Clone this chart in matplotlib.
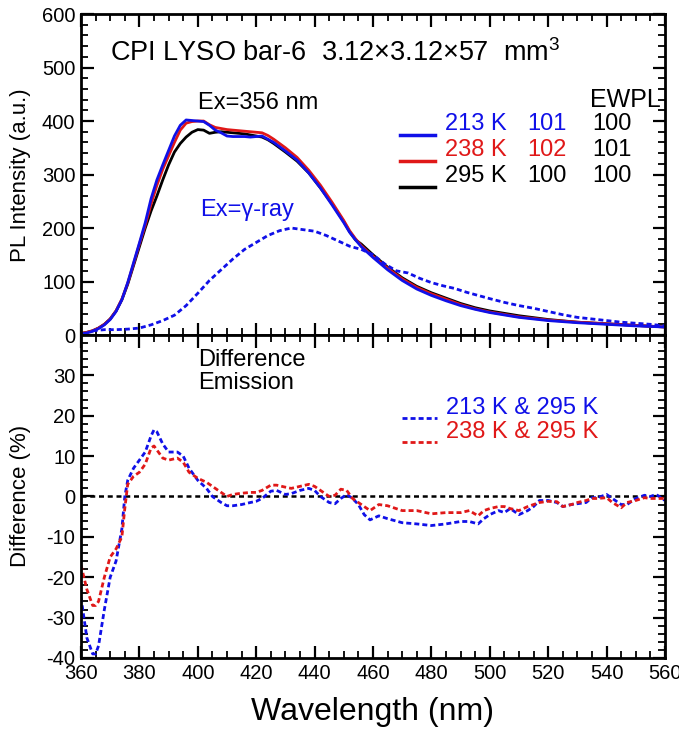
import matplotlib
matplotlib.use("Agg")
import matplotlib.pyplot as plt
from matplotlib.ticker import MultipleLocator
from matplotlib.lines import Line2D

plt.rcParams['font.family'] = ['Liberation Sans', 'DejaVu Sans']
plt.rcParams['mathtext.fontset'] = 'custom'
plt.rcParams['mathtext.rm'] = 'Liberation Sans'
plt.rcParams['mathtext.default'] = 'regular'
plt.rcParams['axes.unicode_minus'] = False

# ---------------- data: top panel (PL intensity) ----------------
wl = [360, 362, 364, 366, 368, 370, 372, 374, 376, 378, 380, 382, 384, 386, 388,
      390, 392, 394, 396, 398, 400, 402, 404, 406, 408, 410, 412, 414, 416, 418,
      420, 422, 424, 426, 428, 430, 434, 438, 442, 446, 450, 452, 454, 456, 458,
      460, 465, 470, 475, 480, 485, 490, 495, 500, 510, 520, 530, 540, 550, 560]

pl_213K = [2, 4, 7, 12, 19, 29, 44, 66, 98, 135, 172, 210, 255, 290, 318,
           345, 372, 392, 402, 401, 400, 399, 392, 383, 378, 372, 371, 371, 371, 370,
           371, 372, 366, 360, 352, 344, 327, 303, 275, 243, 210, 192, 178, 165, 155,
           145, 122, 102, 86, 74, 64, 55, 48, 42, 33, 27, 23, 20, 17, 15]

pl_238K = [3, 5, 8, 13, 20, 30, 45, 67, 97, 133, 170, 205, 245, 280, 310,
           335, 360, 383, 396, 399, 400, 400, 393, 388, 386, 384, 383, 382, 381, 380,
           379, 378, 373, 366, 358, 350, 332, 308, 280, 248, 214, 195, 180, 167, 157,
           147, 125, 105, 89, 77, 67, 57, 49, 43, 34, 28, 24, 21, 18, 15]

pl_295K = [3, 5, 8, 13, 20, 30, 45, 66, 95, 130, 165, 200, 232, 260, 290,
           318, 342, 358, 370, 379, 384, 383, 377, 379, 380, 379, 378, 377, 376, 374,
           372, 370, 365, 358, 350, 342, 325, 303, 275, 245, 212, 193, 178, 170, 160,
           150, 127, 107, 91, 79, 69, 59, 51, 45, 36, 29, 24, 21, 18, 15]

wl_gamma = [364, 368, 372, 376, 380, 384, 388, 392, 396, 400, 404, 408, 412, 416,
            420, 424, 428, 432, 436, 440, 444, 448, 452, 456, 460, 464, 468, 472,
            476, 480, 484, 488, 492, 496, 500, 505, 510, 515, 520, 525, 530, 535,
            540, 545, 550, 555, 560]
pl_gamma = [8, 10, 10, 11, 13, 19, 27, 37, 55, 78, 102, 122, 142, 160,
            173, 186, 195, 200, 197, 194, 186, 176, 166, 160, 150, 133, 120, 116,
            106, 98, 92, 87, 80, 74, 68, 61, 55, 50, 44, 38, 33, 30,
            27, 24, 22, 20, 17]

# ---------------- data: bottom panel (difference %) ----------------
wl_diff = [360, 362, 364, 365, 366, 368, 370, 372, 374, 375, 376, 378, 380, 382, 384,
           385, 386, 388, 390, 393, 395, 397, 400, 403, 405, 408, 410, 412, 415, 418,
           420, 422, 425, 427, 430, 432, 435, 438, 440, 442, 445, 447, 449, 451, 453,
           455, 457, 459, 462, 465, 470, 475, 480, 485, 490, 493, 496, 498, 500, 503,
           505, 507, 510, 513, 515, 517, 520, 523, 525, 528, 530, 533, 535, 537, 540,
           542, 545, 547, 550, 553, 555, 557, 560]
diff_213 = [-25, -35, -39, -39, -37, -28, -20, -16, -8, 0, 4, 7, 9, 11, 15,
            16.5, 16, 13, 11, 11, 10, 7, 4, 2, 0, -1.5, -2.3, -2.3, -2, -1.5,
            -1.2, -0.5, 1.3, 1.5, 0.5, 0.7, 1.5, 2, 1.5, 0, -1.5, -1.8, -0.5, 0.5, -0.5,
            -2, -4.5, -5.8, -4.8, -5.5, -6.5, -6.8, -7.2, -6.8, -6.2, -6.2, -6.8, -5.5, -4.5, -3.5,
            -4, -3, -4.5, -3.5, -2.5, -1, -1, -1.5, -2.5, -2, -1.8, -1.5, -0.3, -0.3, 0.5,
            -0.5, -2, -2, -0.5, 0.3, 0, 0.5, -1]
diff_238 = [-17, -23, -27, -27, -26, -20, -15, -13, -10, -3, 3, 5, 6, 8, 12,
            12.5, 11.5, 9.5, 9, 9.5, 8.5, 6, 4.5, 3.5, 2.5, 1, 0, 0.5, 0.8, 1,
            1, 1.5, 2.8, 2.8, 2.3, 2, 2.5, 3, 2.5, 1.5, 0, 0.3, 1.8, 1.5, -0.5,
            -1.5, -2.5, -3.5, -2, -2.3, -3.5, -3.5, -4.3, -4, -4, -3.5, -4.8, -3.5, -3, -2.5,
            -2.5, -3, -3.5, -2.5, -2, -1.5, -1.2, -1.3, -2.5, -2, -1.5, -1, -0.5, -0.5, -0.3,
            -1.5, -2.8, -1.5, -1, -0.3, -0.5, -0.5, -0.5]

BLUE = '#1010e8'
RED = '#e01818'
BLACK = '#000000'
DASH = (0, (1.8, 1.1))

fig = plt.figure(figsize=(6.79, 7.31), dpi=100)
ax1 = fig.add_axes([0.1193, 0.5417, 0.8600, 0.4391])
ax2 = fig.add_axes([0.1193, 0.0999, 0.8600, 0.4419])

# top panel
ax1.plot(wl, pl_295K, color=BLACK, lw=2)
ax1.plot(wl, pl_238K, color=RED, lw=2)
ax1.plot(wl, pl_213K, color=BLUE, lw=2)
ax1.plot(wl_gamma, pl_gamma, color=BLUE, lw=2, linestyle=DASH)
ax1.set_xlim(360, 560)
ax1.set_ylim(0, 600)
ax1.xaxis.set_major_locator(MultipleLocator(20))
ax1.xaxis.set_minor_locator(MultipleLocator(5))
ax1.yaxis.set_major_locator(MultipleLocator(100))
ax1.yaxis.set_minor_locator(MultipleLocator(20))
ax1.tick_params(labelbottom=False)

# bottom panel
ax2.axhline(0, color=BLACK, lw=1.8, linestyle=(0, (2, 1.5)))
ax2.plot(wl_diff, diff_213, color=BLUE, lw=2, linestyle=DASH)
ax2.plot(wl_diff, diff_238, color=RED, lw=2, linestyle=DASH)
ax2.set_xlim(360, 560)
ax2.set_ylim(-40, 40)
ax2.xaxis.set_major_locator(MultipleLocator(20))
ax2.xaxis.set_minor_locator(MultipleLocator(5))
ax2.set_yticks(list(range(-40, 40, 10)))
ax2.yaxis.set_minor_locator(MultipleLocator(2))

for ax in (ax1, ax2):
    for s in ax.spines.values():
        s.set_linewidth(2)
    ax.tick_params(which='both', direction='in', top=True, right=True,
                   labelsize=14.5, pad=4)
    ax.tick_params(which='major', length=9, width=1.6)
    ax.tick_params(which='minor', length=5, width=1.3)

# axis labels
fig.text(0.0295, 0.761, 'PL Intensity (a.u.)', rotation=90, ha='center',
         va='center', fontsize=16)
fig.text(0.0295, 0.321, 'Difference (%)', rotation=90, ha='center',
         va='center', fontsize=16)
fig.text(0.549, 0.026, 'Wavelength (nm)', ha='center', va='center', fontsize=23)

# annotations top
t = ax1.transAxes
ax1.text(0.05, 0.878, 'CPI LYSO bar-6  3.12×3.12×57  mm$^3$', transform=t,
         fontsize=19.5, va='center', ha='left')
ax1.text(0.20, 0.723, 'Ex=356 nm', transform=t, fontsize=17, va='center')
ax1.text(0.204, 0.389, 'Ex=γ-ray', transform=t, fontsize=17, va='center', color=BLUE)
ax1.text(0.872, 0.732, 'EWPL', transform=t, fontsize=18, va='center')

leg_rows = [('213 K', '101', '100', BLUE, 0.657),
            ('238 K', '102', '101', RED, 0.576),
            ('295 K', '100', '100', BLACK, 0.495)]
for lab, v1, v2, c, y in leg_rows:
    ax1.add_line(Line2D([0.546, 0.606], [y - 0.035, y - 0.035], transform=t,
                        color=c, lw=2.5))
    ax1.text(0.623, y, lab, transform=t, fontsize=17, va='center', color=c)
    ax1.text(0.764, y, v1, transform=t, fontsize=17, va='center', color=c)
    ax1.text(0.875, y, v2, transform=t, fontsize=17, va='center', color=BLACK)

# annotations bottom
t2 = ax2.transAxes
ax2.text(0.20, 0.923, 'Difference', transform=t2, fontsize=17, va='center')
ax2.text(0.20, 0.851, 'Emission', transform=t2, fontsize=17, va='center')
for lab, c, y in [('213 K & 295 K', BLUE, 0.774), ('238 K & 295 K', RED, 0.700)]:
    ax2.add_line(Line2D([0.55, 0.61], [y - 0.03, y - 0.03], transform=t2,
                        color=c, lw=2, linestyle=DASH))
    ax2.text(0.625, y, lab, transform=t2, fontsize=17, va='center', color=c)

fig.savefig('out.png', dpi=100)
